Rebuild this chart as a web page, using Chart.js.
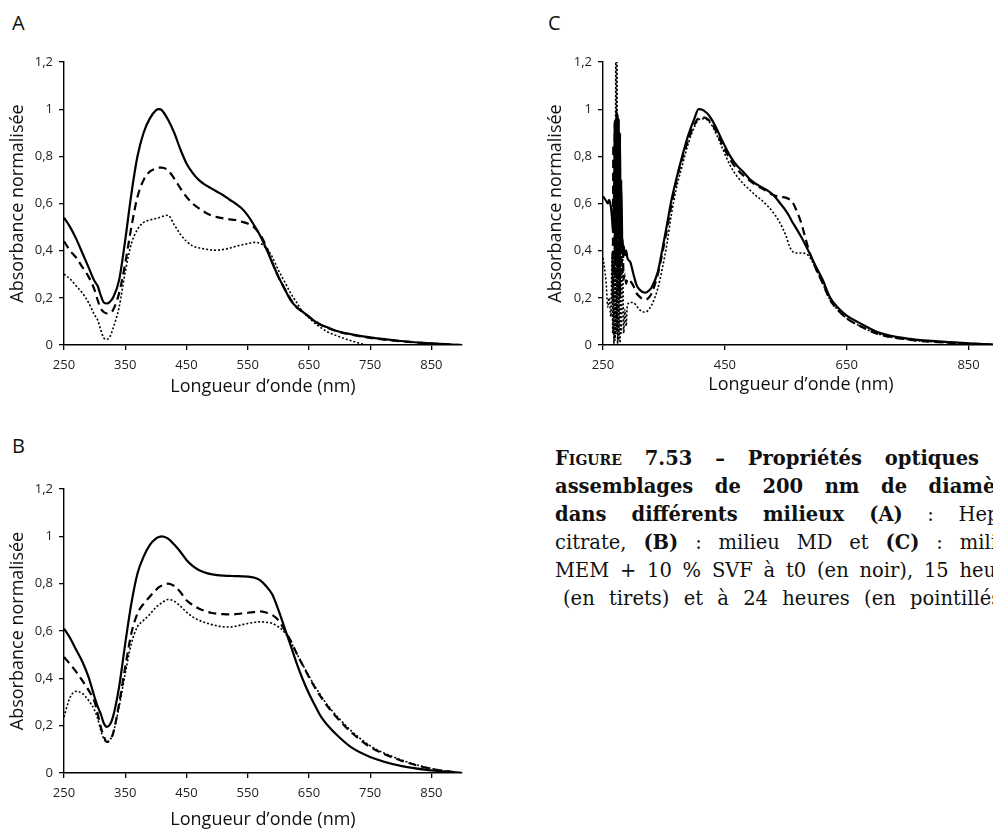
<!DOCTYPE html>
<html>
<head>
<meta charset="utf-8">
<script src="https://cdn.jsdelivr.net/npm/chart.js@4.4.0/dist/chart.umd.min.js"></script>
<style>
html, body { margin: 0; padding: 0; background: #fff; }
body { width: 993px; height: 830px; overflow: hidden; position: relative; font-family: 'Open Sans', sans-serif; }
canvas { position: absolute; }
.tag { position: absolute; font-size: 20px; line-height: 20px; color: #111; }
.cap { position: absolute; left: 555px; top: 445px; font-family: 'DejaVu Serif', serif; font-size: 19.5px; line-height: 28px; color: #111; }
.cap div { white-space: nowrap; }
.cap div.last { padding-left: 8px; }
.sc { font-variant: small-caps; }
</style>
</head>
<body>
<div class="tag" style="left:12px;top:13px">A</div>
<div class="tag" style="left:548px;top:13px">C</div>
<div class="tag" style="left:12px;top:436px">B</div>

<canvas id="chart-a" width="480" height="405" style="left:0;top:0"></canvas>
<canvas id="chart-c" width="480" height="405" style="left:530px;top:0"></canvas>
<canvas id="chart-b" width="480" height="430" style="left:0;top:410px"></canvas>

<div class="cap">
<div data-w="484"><span><b><span class="sc">Figure</span> 7.53 – Propriétés optiques des</b></span></div>
<div data-w="472"><span><b>assemblages de 200 nm de diamètre</b></span></div>
<div data-w="466"><span><b>dans différents milieux (A)</b> : Hepes</span></div>
<div data-w="466"><span>citrate, <b>(B)</b> : milieu MD et <b>(C)</b> : milieu</span></div>
<div data-w="472"><span>MEM + 10 % SVF à t0 (en noir), 15 heures</span></div>
<div data-w="452" class="last"><span>(en tirets) et à 24 heures (en pointillés).</span></div>
</div>

<script>
// wavelengths (nm) shared by panels A and B
var nmAB = [250, 260, 270, 280, 290, 300, 305, 310, 315, 320, 325, 330, 340, 350, 360, 370, 380, 390, 400, 405,
            410, 420, 430, 440, 450, 460, 470, 480, 490, 500, 510, 520, 530, 540, 550, 560, 570, 580, 590, 600,
            610, 620, 630, 640, 650, 660, 670, 680, 700, 720, 750, 800, 850, 900];

// A : Hepes citrate
var aT0  = [.54, .50, .45, .39, .33, .27, .25, .21, .18, .176, .183, .20, .275, .445, .64, .80, .90, .96, .995, 1.0,
            .995, .955, .90, .83, .77, .73, .70, .68, .665, .65, .635, .617, .60, .58, .55, .51, .465, .41, .35, .29,
            .24, .19, .16, .14, .12, .10, .085, .075, .056, .045, .032, .017, .007, 0];
var aT15 = [.44, .40, .37, .33, .29, .233, .19, .155, .14, .134, .137, .148, .22, .346, .50, .628, .70, .735, .748, .752,
            .752, .74, .706, .665, .628, .60, .58, .563, .55, .542, .537, .533, .53, .523, .515, .50, .47, .42, .35, .29,
            .24, .195, .16, .14, .12, .10, .085, .073, .055, .043, .03, .016, .006, 0];
var aT24 = [.30, .28, .25, .22, .18, .127, .106, .064, .03, .024, .035, .07, .16, .31, .43, .49, .52, .53, .536, .54,
            .545, .55, .51, .47, .44, .42, .412, .407, .403, .402, .405, .41, .418, .424, .43, .435, .432, .41, .374, .318,
            .27, .22, .18, .14, .115, .092, .073, .056, .035, .017, 0, 0, 0, 0];

// B : milieu MD
var bT0  = [.61, .57, .52, .47, .406, .32, .28, .25, .21, .195, .205, .237, .364, .547, .716, .843, .914, .963, .99, .997,
            1.0, .99, .965, .935, .90, .875, .858, .847, .84, .836, .834, .833, .832, .831, .83, .826, .815, .79, .755, .69,
            .615, .54, .463, .395, .336, .285, .237, .203, .15, .107, .068, .03, .011, 0];
var bT15 = [.49, .46, .427, .39, .35, .30, .25, .195, .155, .131, .14, .166, .293, .448, .59, .674, .715, .745, .773, .785,
            .792, .80, .79, .765, .73, .71, .695, .685, .677, .673, .671, .67, .671, .674, .677, .68, .683, .678, .668, .646,
            .605, .56, .505, .455, .406, .36, .32, .283, .222, .17, .11, .053, .018, 0];
var bT24 = [.237, .32, .345, .336, .307, .265, .23, .18, .145, .131, .14, .166, .28, .42, .547, .618, .645, .67, .70, .71,
            .72, .733, .726, .705, .68, .66, .646, .636, .628, .622, .618, .617, .62, .626, .632, .636, .639, .637, .632, .618,
            .595, .555, .505, .457, .41, .365, .325, .288, .228, .176, .115, .056, .019, 0];

// C : MEM + 10 % SVF
var nmC  = [250, 255, 258, 260, 263, 265, 266, 267, 268, 269, 270, 271, 272, 273, 274, 275, 276, 277, 278, 279,
            280, 282, 284, 286, 288, 290, 295, 300, 305, 310, 315, 320, 325, 330, 340, 347, 355, 362, 370, 380,
            390, 400, 407, 415, 425, 435, 445, 459, 470, 480, 492, 500, 510, 520, 530, 541, 550, 556, 560, 566,
            575, 587, 600, 610, 623, 635, 650, 670, 700, 750, 800, 850, 900];
var cT0  = [.63, .612, .60, .615, .585, .53, .49, .55, .62, .75, .95, .70, 1.0, .65, .98, .55, .96, .45, .90, .40,
            .70, .38, .42, .38, .40, .37, .35, .30, .255, .235, .225, .222, .23, .245, .31, .40, .51, .61, .70, .80,
            .89, .96, 1.0, .995, .97, .925, .87, .80, .76, .735, .70, .685, .67, .655, .635, .60, .57, .545, .525, .50,
            .46, .40, .33, .28, .20, .16, .125, .095, .055, .027, .015, .007, 0];
var cT15 = [null, null, null, null, null, null, .20, .85, .30, .95, .28, .90, .35, .97, .25, .80, .22, .70, .20, .55,
            .30, .45, .28, .30, .26, .28, .27, .25, .22, .205, .195, .193, .20, .22, .30, .385, .49, .59, .69, .79,
            .87, .935, .962, .965, .95, .91, .855, .785, .745, .72, .695, .68, .665, .65, .635, .628, .625, .618, .61, .58,
            .52, .41, .32, .265, .19, .15, .113, .083, .048, .023, .012, .006, 0];
var cT24 = [.37, .27, .16, .20, .12, .39, .05, .36, 0, .85, .02, 1.2, .05, 1.2, 0, .95, .02, .70, 0, .50,
            .05, .40, .05, .15, .08, .17, .18, .18, .165, .15, .14, .14, .15, .17, .24, .32, .43, .55, .66, .76,
            .855, .925, .955, .96, .945, .90, .84, .76, .715, .685, .655, .635, .615, .59, .56, .515, .465, .42, .40, .39,
            .39, .38, .32, .265, .19, .15, .113, .083, .048, .023, .012, .006, 0];

var xTicksAB = [250, 350, 450, 550, 650, 750, 850];
var xTicksC = [250, 450, 650, 850];
var yTicks = [0, 0.2, 0.4, 0.6, 0.8, 1, 1.2];
var yTickLabels = ['0', '0,2', '0,4', '0,6', '0,8', '1', '1,2'];

Chart.defaults.font.family = "'Open Sans', sans-serif";
Chart.defaults.color = '#1e1e1e';

function pts(xs, ys){
    return xs.map(function(x, i){ return {x: x, y: ys[i]}; });
}

function createChart(id, nm, t0, t15, t24, xTicks, lay){
    new Chart(document.getElementById(id), {
        type: 'line',
        data: {
            datasets: [
                { label: 't0', data: pts(nm, t0), borderColor: '#000', borderWidth: 2.2 },
                { label: '15 h', data: pts(nm, t15), borderColor: '#000', borderWidth: 2.2, borderDash: [8, 5] },
                { label: '24 h', data: pts(nm, t24), borderColor: '#000', borderWidth: 1.6, borderDash: [2, 2] }
            ]
        },
        options: {
            responsive: false,
            animation: false,
            elements: {
                point: { radius: 0 },
                line: { cubicInterpolationMode: 'monotone', fill: false }
            },
            layout: { padding: { top: lay.top, right: lay.right, left: 0, bottom: 0 } },
            plugins: { legend: { display: false }, tooltip: { enabled: false } },
            scales: {
                x: {
                    type: 'linear', min: 250, max: 900,
                    afterBuildTicks: function(s){ s.ticks = xTicks.map(function(v){ return {value: v}; }); },
                    afterFit: function(s){ s.height = lay.xh; },
                    ticks: { autoSkip: false, maxRotation: 0, padding: 7, font: { size: 13 },
                             callback: function(v){ return String(v); } },
                    grid: { drawOnChartArea: false, drawTicks: true, tickLength: 5, color: '#000', lineWidth: 1.3 },
                    border: { display: true, color: '#000', width: 1.4 },
                    title: { display: true, text: 'Longueur d\u2019onde (nm)', font: { size: 18 }, color: '#111',
                             padding: { top: 0, bottom: lay.xt } }
                },
                y: {
                    min: 0, max: 1.2,
                    afterBuildTicks: function(s){ s.ticks = yTicks.map(function(v){ return {value: v}; }); },
                    afterFit: function(s){ s.width = lay.yw; },
                    ticks: { padding: 6, font: { size: 13 },
                             callback: function(v, i){ return yTickLabels[i]; } },
                    grid: { drawOnChartArea: false, drawTicks: true, tickLength: 5, color: '#000', lineWidth: 1.3 },
                    border: { display: true, color: '#000', width: 1.4 },
                    title: { display: true, text: 'Absorbance normalisée', font: { size: 18 }, color: '#111',
                             padding: { top: lay.yt, bottom: 0 } }
                }
            }
        }
    });
}

createChart('chart-a', nmAB, aT0, aT15, aT24, xTicksAB, { top: 62, right: 18, yw: 64, xh: 60, xt: 7, yt: 7 });
createChart('chart-c', nmC, cT0, cT15, cT24, xTicksC, { top: 62, right: 11, yw: 73, xh: 60, xt: 9, yt: 15 });
createChart('chart-b', nmAB, bT0, bT15, bT24, xTicksAB, { top: 79, right: 18, yw: 64, xh: 67, xt: 9, yt: 7 });

// justify the caption lines to their column width
document.querySelectorAll('.cap div').forEach(function(line){
    var span = line.firstElementChild;
    var spaces = (span.textContent.match(/ /g) || []).length;
    var extra = (parseFloat(line.dataset.w) - span.getBoundingClientRect().width) / spaces;
    if(extra > 0) span.style.wordSpacing = extra + 'px';
});
</script>
</body>
</html>
